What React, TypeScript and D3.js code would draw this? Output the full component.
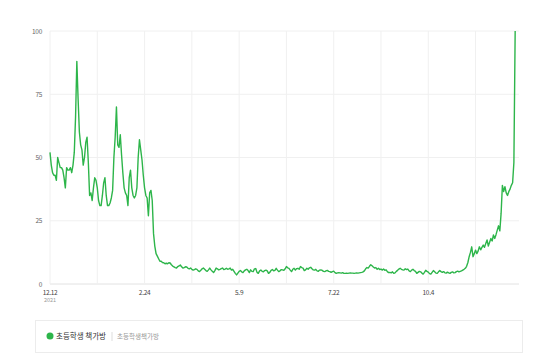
import React from "react";
import * as d3 from "d3";

const START_DATE = "2020-12-12";

// daily values, segment 1 (12.12 → early March)
const valuesEarly = [
  52, 47, 44, 43, 43, 41, 50, 48, 46, 46, 45, 42, 38, 46, 45, 45, 46, 44, 47, 52,
  66, 88, 73, 60, 55, 53, 47, 50, 56, 58, 48, 35, 36, 33, 38, 42, 41, 38, 33, 31,
  31, 35, 40, 42, 35, 31, 31, 32, 34, 37, 50, 58, 70, 55, 54, 59, 51, 44, 38, 36,
  35, 31, 42, 45, 38, 35, 34, 35, 38, 50, 57, 53, 49, 43, 38, 35, 34, 27, 36, 37,
  33, 20, 15, 12, 11, 10, 9,
];

// segment 2 (flat period)
const valuesMid = [
  9, 8.5, 8.4, 8, 8.2, 8, 8.4, 8.3, 7.6, 7.1,
  6.8, 6.5, 6.3, 6.9, 7.2, 7.5, 6.8, 6.3, 6.5, 6.8,
  6.7, 6.2, 6.0, 6.3, 5.8, 5.5, 5.7, 6.0, 5.8, 5.2,
  4.9, 5.4, 6.0, 6.3, 5.8, 5.3, 5.0, 5.6, 6.3, 5.6,
  5.0, 4.5, 5.3, 6.3, 6.0, 5.6, 5.8, 6.1, 6.3, 5.7,
  5.9, 6.2, 5.8, 6.0, 6.3, 5.5, 5.8, 5.0, 4.2, 3.6,
  4.3, 5.0, 5.3, 4.8, 4.5, 5.2, 5.6, 5.8, 5.3, 4.5,
  5.6, 5.0, 4.9, 6.0, 6.1, 4.6, 4.2, 5.2, 5.5, 5.0,
  4.8, 5.3, 5.5, 5.2, 4.2, 4.6, 5.4, 5.7, 5.2, 5.4,
  6.2, 5.5, 4.9, 5.2, 5.7, 5.6, 5.4, 6.0, 6.9, 6.4,
  6.2, 5.5, 4.9, 5.8, 6.2, 5.5, 6.1, 6.2, 5.8, 6.9,
  6.5, 6.3, 5.3, 5.6, 6.2, 5.8, 6.4, 6.6, 6.0, 5.6,
  5.5, 5.8, 5.2, 5.0, 5.5, 5.6, 5.4, 5.0, 4.9, 5.2,
  5.4, 5.0, 4.9, 4.6, 4.9, 5.1, 4.5, 4.2, 4.4, 4.5,
  4.4, 4.3, 4.5, 4.2, 4.2, 4.3, 4.2, 4.3, 4.4, 4.3,
  4.3, 4.2, 4.3, 4.4, 4.3, 4.4, 4.5, 4.6, 4.8, 5.2,
  6.0, 6.5, 6.3, 7.0, 7.6, 7.2, 6.7, 6.3, 6.5, 5.8,
  6.2, 5.7, 5.9, 5.5, 5.9, 5.4, 5.6, 4.9, 4.5, 4.6,
  4.4, 4.8, 4.2, 4.4, 5.0, 5.4, 5.9, 6.2, 5.8, 5.6,
  5.5, 6.0, 5.7, 5.9, 5.2, 4.9, 5.5, 5.8, 5.3, 5.0,
  4.2, 4.6, 5.0, 4.8, 4.3, 3.9, 4.6, 5.4, 5.0, 4.7,
  4.1, 3.9, 4.6, 5.3, 4.8, 4.3, 4.2, 4.8, 5.3, 4.9,
  4.6, 4.9, 4.4, 4.3, 4.7, 4.4, 4.2, 4.6, 4.8, 4.4,
  4.5, 4.9, 5.1, 4.8, 5.0, 5.2, 5.5, 5.8, 6.2, 7.0,
];

// segment 3 (rise toward December)
const valuesLate = [
  8.5, 10.8, 12.5, 14.7, 10.8, 12.0, 13.4, 12.0, 13.0, 14.7,
  13.5, 14.5, 15.4, 14.5, 16.0, 17.4, 15.0, 16.5, 18.0, 17.0,
  19.4, 18.0, 19.5, 21.3, 23.0, 21.0, 28.0, 39.0, 36.5, 38.5,
  36.0, 35.0, 36.5, 37.5, 39.0, 40.0, 48.0, 100,
];

const yTicks = [0, 25, 50, 75, 100];
const xTickLabels = ["12.12", "2.24", "5.9", "7.22", "10.4"];
const yearLabel = "2021";
const seriesName = "초등학생 책가방";
const seriesKeyword = "초등학생책가방";

const GREEN = "#2db54a";

export default function App() {
  const W = 559;
  const H = 357;
  const values = [...valuesEarly, ...valuesMid, ...valuesLate];
  const start = d3.timeParse("%Y-%m-%d")(START_DATE) as Date;
  const data = values.map((v, i) => ({ date: d3.timeDay.offset(start, i), v }));

  const x = d3
    .scaleTime()
    .domain([start, d3.timeDay.offset(start, 367)])
    .range([50, 519]);
  const y = d3.scaleLinear().domain([0, 100]).range([284, 31]);

  const gridDates = d3.range(0, 10).map((k) => d3.timeDay.offset(start, k * 37));
  const labelDates = xTickLabels.map((_, k) => d3.timeDay.offset(start, k * 74));

  const line = d3
    .line<{ date: Date; v: number }>()
    .x((d) => x(d.date))
    .y((d) => y(d.v))
    .curve(d3.curveLinear);

  const tickFont = "'Noto Sans CJK KR', 'Noto Sans', sans-serif";

  return (
    <svg
      width={W}
      height={H}
      style={{ position: "absolute", left: 0, top: 0, background: "#fff" }}
      fontFamily={tickFont}
    >
      <rect x={0} y={0} width={W} height={H} fill="#fff" />
      {/* grid */}
      {yTicks.map((t) => (
        <line
          key={"h" + t}
          x1={50}
          x2={519}
          y1={y(t)}
          y2={y(t)}
          stroke={t === 0 ? "#e2e2e2" : "#f0f0f0"}
          strokeWidth={1}
        />
      ))}
      {gridDates.map((d, i) => (
        <line
          key={"v" + i}
          x1={x(d)}
          x2={x(d)}
          y1={31}
          y2={284}
          stroke="#f0f0f0"
          strokeWidth={1}
        />
      ))}
      {/* y labels */}
      {yTicks.map((t) => (
        <text
          key={"yl" + t}
          x={42}
          y={y(t) + 2.5}
          textAnchor="end"
          fontSize={6.5}
          fill="#666"
          letterSpacing={-0.3}
        >
          {t}
        </text>
      ))}
      {/* x labels */}
      {labelDates.map((d, i) => (
        <text
          key={"xl" + i}
          x={x(d)}
          y={295}
          textAnchor="middle"
          fontSize={6.5}
          fill="#444"
          letterSpacing={-0.3}
        >
          {xTickLabels[i]}
        </text>
      ))}
      <text
        x={x(labelDates[0])}
        y={302}
        textAnchor="middle"
        fontSize={5.5}
        fill="#999"
      >
        {yearLabel}
      </text>
      {/* line */}
      <path
        d={line(data) || ""}
        fill="none"
        stroke={GREEN}
        strokeWidth={1.4}
        strokeLinejoin="round"
      />
      {/* legend */}
      <rect
        x={35.5}
        y={320.5}
        width={487}
        height={32}
        fill="#fff"
        stroke="#ececec"
        strokeWidth={1}
      />
      <circle cx={50} cy={336} r={3.5} fill={GREEN} />
      <text x={56} y={339} fontSize={7.5} fill="#333">
        {seriesName}
      </text>
      <line x1={112} x2={112} y1={332} y2={341} stroke="#ddd" strokeWidth={1} />
      <text x={117} y={339} fontSize={6.5} fill="#999">
        {seriesKeyword}
      </text>
    </svg>
  );
}
